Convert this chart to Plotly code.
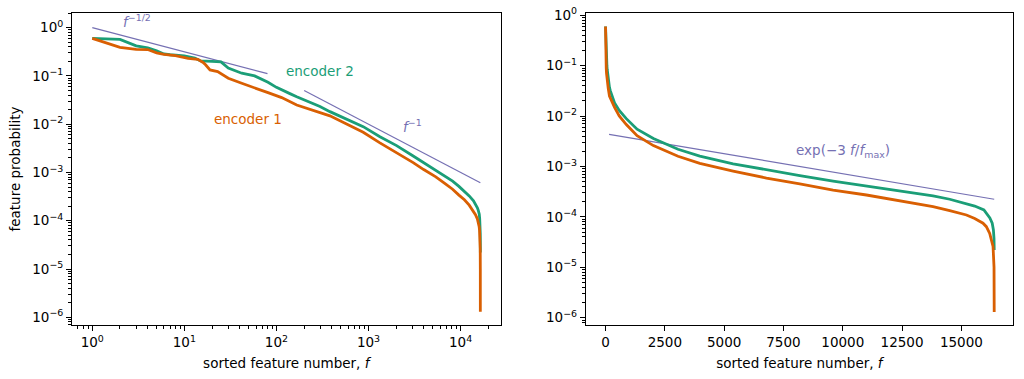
import plotly.graph_objects as go

# ---- data ----
ranks_enc2 = [1, 2, 3, 4, 5, 6, 7, 9, 10, 13, 15, 20, 25, 30, 42, 58, 70, 81, 100, 114,
              140, 166, 200, 297, 381, 578, 876, 1330, 2018, 3055, 3974, 5378, 6783, 8188,
              9592, 10999, 12402, 13805, 14509, 15213, 15562, 15950, 16122, 16200, 16300,
              16350, 16375, 16384]
prob_enc2 = [0.60, 0.57, 0.42, 0.38, 0.33, 0.285, 0.275, 0.265, 0.26, 0.235, 0.205, 0.20,
             0.195, 0.145, 0.114, 0.100, 0.085, 0.074, 0.058, 0.051, 0.043, 0.037, 0.032,
             0.0232, 0.0182, 0.0129, 0.0089, 0.0055, 0.0036, 0.0022, 0.00161, 0.00113,
             0.00085, 0.00066, 0.000515, 0.00041, 0.000327, 0.00026, 0.000224, 0.000186,
             0.000164, 0.000137, 0.000109, 0.000095, 0.000075, 0.000055, 0.000037, 0.000022]

ranks_enc1 = [1, 2, 3, 4, 5, 6, 8, 11, 14, 16, 17, 19, 23, 30, 42, 58, 81, 114, 166, 381,
              578, 876, 1330, 2018, 3055, 3974, 5378, 6783, 8188, 9592, 10999, 12402, 13805,
              14509, 15213, 15562, 15912, 16053, 16194, 16335, 16376, 16384]
prob_enc1 = [0.60, 0.39, 0.356, 0.352, 0.30, 0.28, 0.263, 0.232, 0.22, 0.19, 0.17, 0.133,
             0.123, 0.0895, 0.0706, 0.0556, 0.045, 0.0356, 0.025, 0.0149, 0.0101, 0.0068,
             0.0041, 0.0026, 0.00160, 0.00115, 0.00081, 0.00059, 0.00045, 0.00034, 0.000272,
             0.00021, 0.00016, 0.000133, 0.000109, 0.000093, 0.000075, 0.000064, 0.000047,
             0.000026, 0.000010, 0.0000013]

ref_half_f = [1, 80]
ref_half_p = [1.0, 0.112]
ref_inv_f = [200, 16384]
ref_inv_p = [0.05, 0.00061]
ref_exp_f = [150, 16384]
ref_exp_p = [0.00435, 0.000224]

log_xticks = [1, 10, 100, 1000, 10000]
log_xtext = ["10<sup>0</sup>", "10<sup>1</sup>", "10<sup>2</sup>", "10<sup>3</sup>", "10<sup>4</sup>"]
log_yticks = [1, 1e-1, 1e-2, 1e-3, 1e-4, 1e-5, 1e-6]
log_ytext = ["10<sup>0</sup>", "10<sup>\u22121</sup>", "10<sup>\u22122</sup>", "10<sup>\u22123</sup>",
             "10<sup>\u22124</sup>", "10<sup>\u22125</sup>", "10<sup>\u22126</sup>"]
lin_xticks = [0, 2500, 5000, 7500, 10000, 12500, 15000]

ORANGE = "#d95f02"
GREEN = "#1b9e77"
PURPLE = "#7570b3"
FONT = "DejaVu Sans"
FS = 13.5

minor_y = [m * 10.0 ** k for k in range(-7, 1) for m in range(2, 10)]
minor_x = [m * 10.0 ** k for k in range(-1, 5) for m in range(2, 10)]

fig = go.Figure()

# left panel
fig.add_trace(go.Scatter(x=ref_half_f, y=ref_half_p, mode="lines",
                         line=dict(color=PURPLE, width=1.2), xaxis="x", yaxis="y"))
fig.add_trace(go.Scatter(x=ref_inv_f, y=ref_inv_p, mode="lines",
                         line=dict(color=PURPLE, width=1.2), xaxis="x", yaxis="y"))
fig.add_trace(go.Scatter(x=ranks_enc2, y=prob_enc2, mode="lines",
                         line=dict(color=GREEN, width=2.8), xaxis="x", yaxis="y"))
fig.add_trace(go.Scatter(x=ranks_enc1, y=prob_enc1, mode="lines",
                         line=dict(color=ORANGE, width=2.8), xaxis="x", yaxis="y"))

# right panel
fig.add_trace(go.Scatter(x=ref_exp_f, y=ref_exp_p, mode="lines",
                         line=dict(color=PURPLE, width=1.2), xaxis="x2", yaxis="y2"))
fig.add_trace(go.Scatter(x=ranks_enc2, y=prob_enc2, mode="lines",
                         line=dict(color=GREEN, width=2.8), xaxis="x2", yaxis="y2"))
fig.add_trace(go.Scatter(x=ranks_enc1, y=prob_enc1, mode="lines",
                         line=dict(color=ORANGE, width=2.8), xaxis="x2", yaxis="y2"))

W, H = 1024, 379
ML, MR, MT, MB = 72, 10.7, 13, 54
PW = W - ML - MR


def dx(xp):
    return (xp - ML) / PW


common = dict(showline=True, linecolor="black", linewidth=1, mirror=True,
              ticks="outside", ticklen=5, tickwidth=1, tickcolor="black",
              showgrid=False, zeroline=False, automargin=False,
              tickfont=dict(family=FONT, size=FS, color="black"))
minor_style = dict(ticks="outside", ticklen=3, tickwidth=0.8, tickcolor="black", showgrid=False)

xtitle = dict(text="sorted feature number, <i>f</i>", font=dict(family=FONT, size=FS, color="black"),
              standoff=9)

fig.update_layout(
    width=W, height=H,
    margin=dict(l=ML, r=MR, t=MT, b=MB, autoexpand=False),
    paper_bgcolor="white", plot_bgcolor="white",
    showlegend=False,
    font=dict(family=FONT, size=FS, color="black"),
    xaxis=dict(type="log", range=[-0.22, 4.434], domain=[0, dx(500.7)], anchor="y",
               tickmode="array", tickvals=log_xticks, ticktext=log_xtext,
               minor=dict(tickmode="array", tickvals=minor_x, **minor_style),
               title=xtitle, **common),
    yaxis=dict(type="log", range=[-6.16, 0.304], domain=[0, 1], anchor="x",
               tickmode="array", tickvals=log_yticks, ticktext=log_ytext,
               minor=dict(tickmode="array", tickvals=minor_y, **minor_style),
               title=dict(text="feature probability", font=dict(family=FONT, size=FS, color="black"),
                          standoff=8),
               **common),
    xaxis2=dict(type="linear", range=[-830, 17176], domain=[dx(586), 1], anchor="y2",
                tickmode="array", tickvals=lin_xticks, ticktext=[str(v) for v in lin_xticks],
                title=xtitle, **common),
    yaxis2=dict(type="log", range=[-6.145, 0.046], domain=[0, 1], anchor="x2",
                tickmode="array", tickvals=log_yticks, ticktext=log_ytext,
                minor=dict(tickmode="array", tickvals=minor_y, **minor_style),
                **common),
)


def label(text, cx, cy, color):
    fig.add_annotation(text=text, xref="paper", yref="paper", x=dx(cx), y=(H - MB - cy) / (H - MT - MB),
                       xanchor="center", yanchor="middle", showarrow=False,
                       font=dict(family=FONT, size=FS, color=color))


label("<i>f</i><sup>\u22121/2</sup>", 137, 21, PURPLE)
label("encoder 2", 320, 71, GREEN)
label("encoder 1", 248, 119, ORANGE)
label("<i>f</i><sup>\u22121</sup>", 413, 126, PURPLE)
label("exp(\u22123 <i>f</i>/<i>f</i><sub>max</sub>)", 843, 151, PURPLE)

fig.write_html("out.html", config={"displayModeBar": False},
               post_script="document.body.style.margin='0';document.body.style.overflow='hidden';")
